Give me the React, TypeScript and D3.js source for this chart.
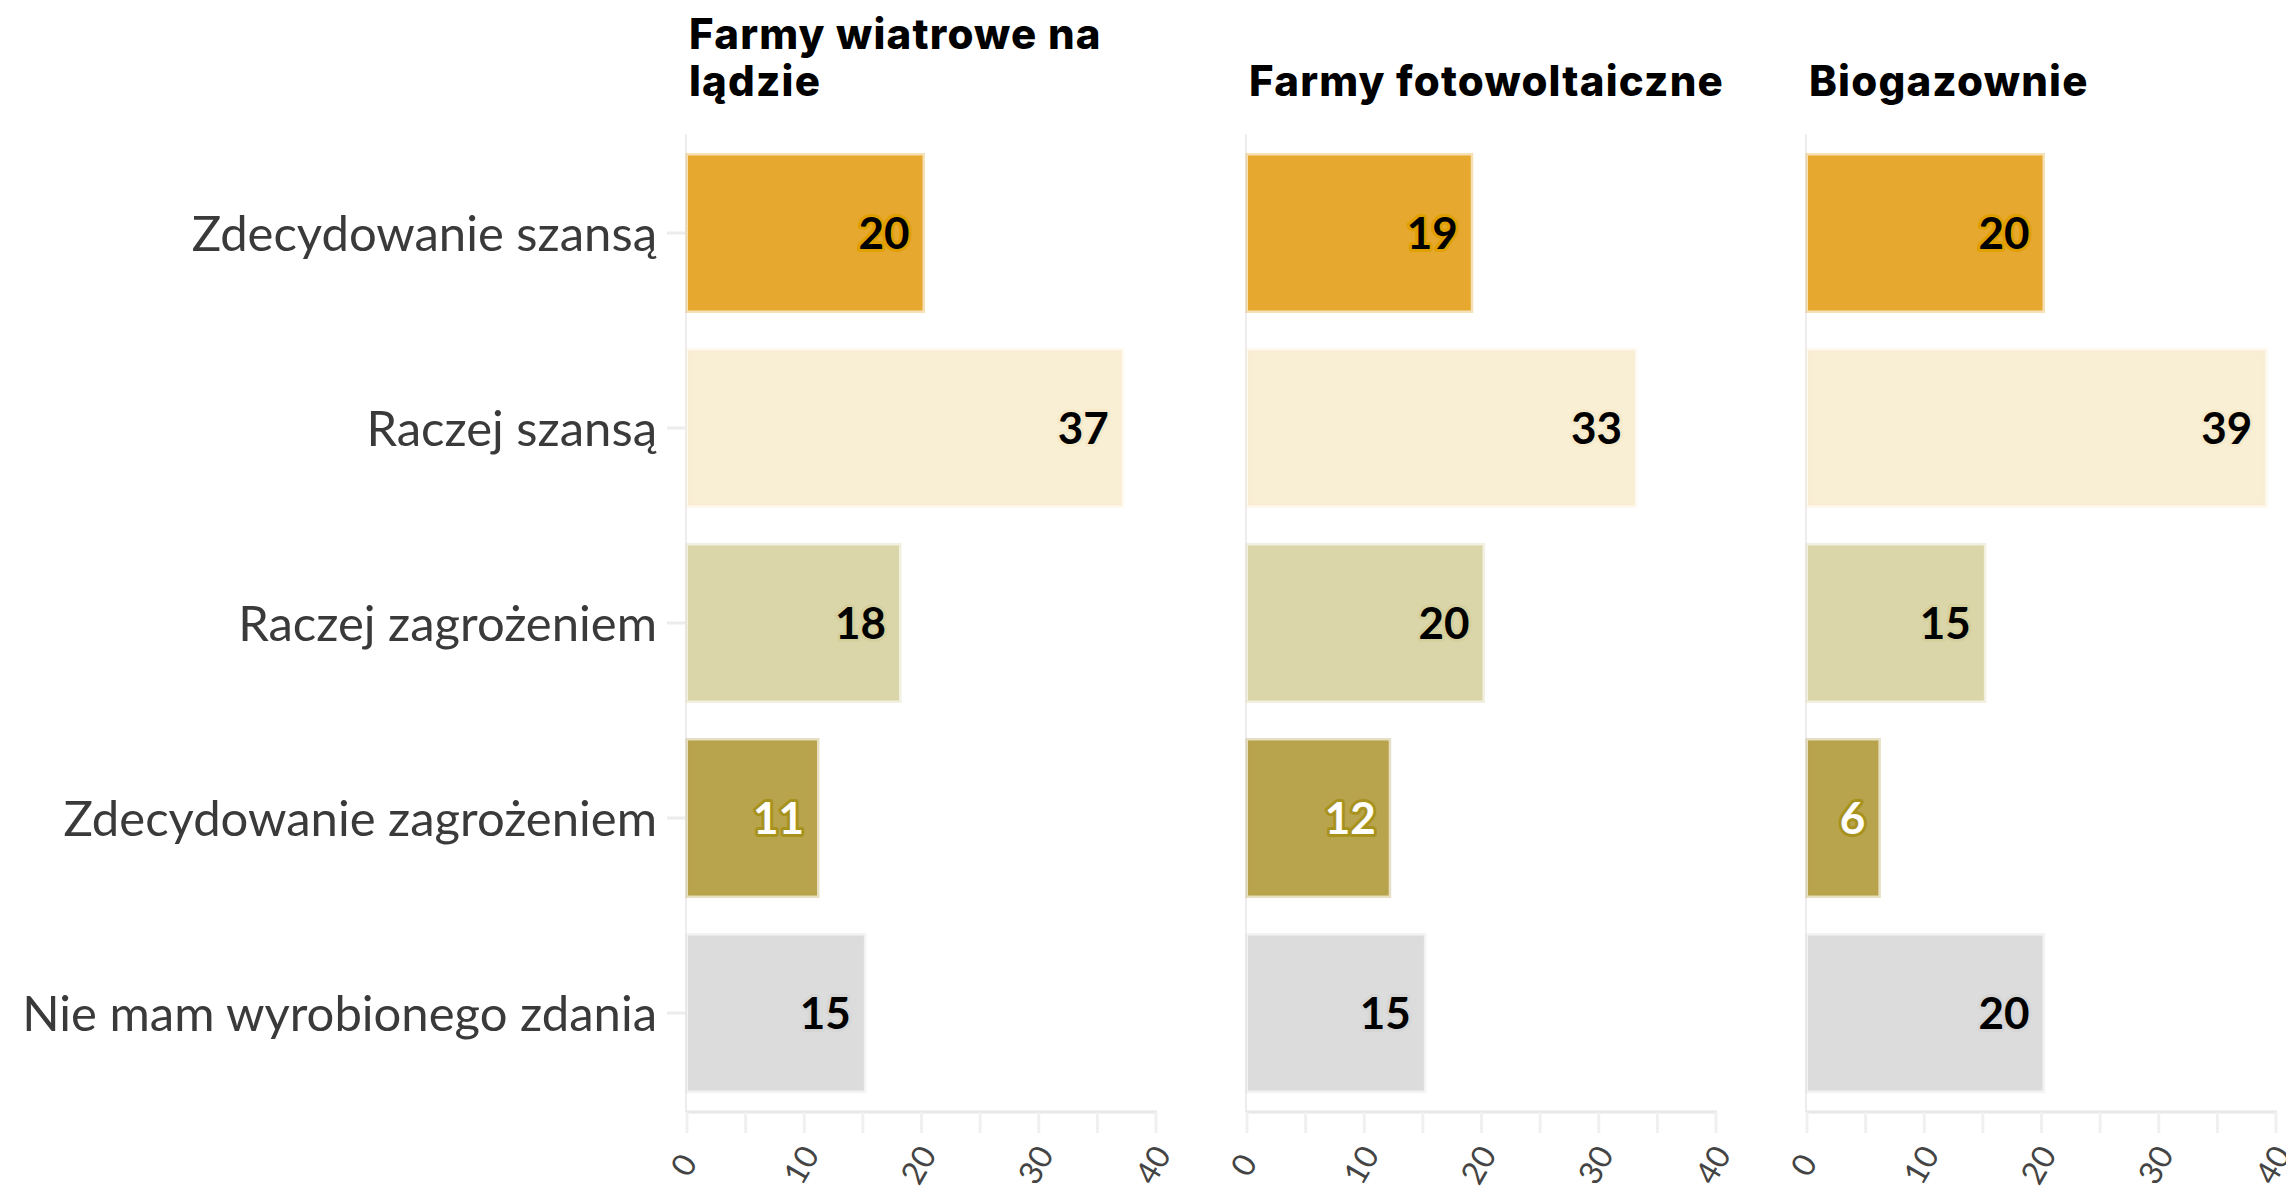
import React from "react";
import * as d3 from "d3";

const categories = [
  "Zdecydowanie szansą",
  "Raczej szansą",
  "Raczej zagrożeniem",
  "Zdecydowanie zagrożeniem",
  "Nie mam wyrobionego zdania",
];
const panelTitles = [
  ["Farmy wiatrowe na", "lądzie"],
  ["Farmy fotowoltaiczne"],
  ["Biogazownie"],
];
const windValues = [20, 37, 18, 11, 15];
const solarValues = [19, 33, 20, 12, 15];
const biogasValues = [20, 39, 15, 6, 20];
const xTickValues = [0, 10, 20, 30, 40];
const xMinorTicks = [0, 5, 10, 15, 20, 25, 30, 35, 40];

const fills = ["#E6A82E", "#F9EFD4", "#DBD6A9", "#B8A44C", "#DCDCDC"];
const halos = ["#E0A000", "#F6EACB", "#D6D09E", "#A8921E", "#D6D6D6"];
const labelColors = ["#000", "#000", "#000", "#fff", "#000"];

const W = 2286;
const H = 1197;
const panelX0 = [687, 1247, 1807];
const panelW = 469;
const axisTop = 134;
const axisBottom = 1112;

export default function App() {
  const series = [windValues, solarValues, biogasValues];
  const y = d3
    .scaleBand<string>()
    .domain(categories)
    .range([axisTop, axisBottom])
    .paddingInner(0.205)
    .paddingOuter(0.11);
  const x = d3.scaleLinear().domain([0, 40]).range([0, panelW]);
  const font = "Lato, 'Open Sans', sans-serif";

  return (
    <svg
      width={W}
      height={H}
      style={{ position: "absolute", left: 0, top: 0, background: "#fff" }}
      fontFamily={font}
    >
      {categories.map((c) => (
        <text
          key={c}
          x={657}
          y={(y(c) as number) + y.bandwidth() / 2}
          dy="0.36em"
          textAnchor="end"
          fontSize={49}
          fill="#3a3a3a"
          fontWeight={400}
        >
          {c}
        </text>
      ))}
      {series.map((vals, pi) => {
        const x0 = panelX0[pi];
        const lines = panelTitles[pi];
        return (
          <g key={pi} transform={`translate(${x0},0)`}>
            {lines.map((ln, li) => (
              <text
                key={li}
                x={2}
                y={96 - (lines.length - 1 - li) * 47}
                fontSize={42}
                fontWeight={800}
                fontFamily="Inter, 'Open Sans', sans-serif"
                letterSpacing={1.2}
                fill="#000"
              >
                {ln}
              </text>
            ))}
            <line x1={-1} x2={-1} y1={axisTop} y2={axisBottom} stroke="#ececec" strokeWidth={2} />
            {pi === 0 &&
              categories.map((c) => (
                <line
                  key={c}
                  x1={-20}
                  x2={-1}
                  y1={(y(c) as number) + y.bandwidth() / 2}
                  y2={(y(c) as number) + y.bandwidth() / 2}
                  stroke="#ececec"
                  strokeWidth={3}
                />
              ))}
            <line x1={-1} x2={x(40) + 1} y1={axisBottom} y2={axisBottom} stroke="#e8e8e8" strokeWidth={3} />
            {xMinorTicks.map((t) => (
              <line
                key={t}
                x1={x(t)}
                x2={x(t)}
                y1={axisBottom}
                y2={axisBottom + 21}
                stroke="#f0f0f0"
                strokeWidth={3}
              />
            ))}
            {xTickValues.map((t) => (
              <text
                key={t}
                transform={`translate(${x(t) - 3},${axisBottom + 53}) rotate(-60)`}
                textAnchor="middle"
                dy="0.35em"
                fontSize={32}
                fill="#444"
              >
                {t}
              </text>
            ))}
            {vals.map((v, i) => {
              const c = categories[i];
              const by = y(c) as number;
              const bw = x(v);
              return (
                <g key={c}>
                  <rect
                    x={1}
                    y={by}
                    width={bw}
                    height={y.bandwidth()}
                    fill={fills[i]}
                    stroke={fills[i]}
                    strokeOpacity={0.35}
                    strokeWidth={5}
                  />
                  <text
                    x={bw - 12}
                    y={by + y.bandwidth() / 2}
                    dy="0.36em"
                    textAnchor="end"
                    fontSize={44}
                    fontWeight={700}
                    fill={labelColors[i]}
                    stroke={halos[i]}
                    strokeWidth={6}
                    strokeLinejoin="round"
                    style={{ paintOrder: "stroke" }}
                  >
                    {v}
                  </text>
                </g>
              );
            })}
          </g>
        );
      })}
    </svg>
  );
}
